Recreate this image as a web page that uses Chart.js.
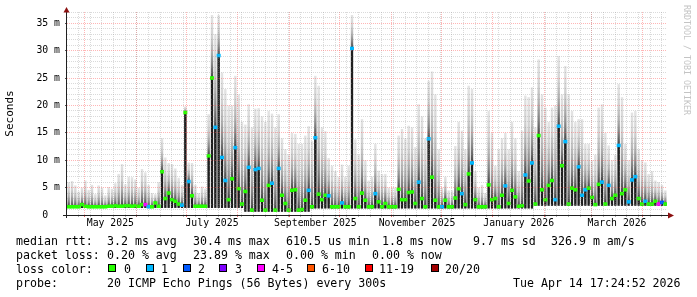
<!DOCTYPE html>
<html><head><meta charset="utf-8">
<script src="https://cdn.jsdelivr.net/npm/chart.js@4/dist/chart.umd.min.js"></script>
<style>
html,body{margin:0;padding:0;background:#fff;}
#wrap{position:relative;width:697px;height:297px;overflow:hidden;background:#fff;}
#c{position:absolute;left:0;top:0;}
.t{position:absolute;font-family:'DejaVu Sans Mono',monospace;font-size:11.6px;line-height:14px;white-space:pre;color:#000;}
.b{position:absolute;top:264px;width:6px;height:6px;border:1px solid #000;}
#wm{position:absolute;left:682px;top:5px;writing-mode:vertical-rl;font-family:'DejaVu Sans Mono',monospace;font-size:8.3px;line-height:10px;color:#c4c4c4;white-space:nowrap;}
</style></head><body>
<div id="wrap">
<canvas id="c" width="697" height="297"></canvas>
<div class="t" style="left:16px;top:234px">median rtt:</div>
<div class="t" style="left:107px;top:234px">3.2 ms avg</div>
<div class="t" style="left:193px;top:234px">30.4 ms max</div>
<div class="t" style="left:286px;top:234px">610.5 us min</div>
<div class="t" style="left:382px;top:234px">1.8 ms now</div>
<div class="t" style="left:473px;top:234px">9.7 ms sd</div>
<div class="t" style="left:551px;top:234px">326.9 m am/s</div>
<div class="t" style="left:16px;top:248px">packet loss:</div>
<div class="t" style="left:107px;top:248px">0.20 % avg</div>
<div class="t" style="left:193px;top:248px">23.89 % max</div>
<div class="t" style="left:286px;top:248px">0.00 % min</div>
<div class="t" style="left:372px;top:248px">0.00 % now</div>
<div class="t" style="left:16px;top:262px">loss color:</div>
<div id="lossLegend"></div>
<div class="t" style="left:16px;top:276px">probe:</div>
<div class="t" style="left:107px;top:276px">20 ICMP Echo Pings (56 Bytes) every 300s</div>
<div class="t" style="left:513px;top:276px">Tue Apr 14 17:24:52 2026</div>
<div id="wm">RRDTOOL / TOBI OETIKER</div>
</div>
<script>
// ---- data (2-day bins, 20 Apr 2025 -> 15 Apr 2026) ----
const medianMs = [
 1.5,1.5,1.5,1.5,1.9,1.6,1.5,1.5,1.5,1.5,
 1.5,1.5,1.6,1.6,1.7,1.6,1.6,1.7,1.7,1.6,
 1.7,1.6,1.9,1.9,1.5,1.5,2.2,1.6,7.9,3.0,
 4.0,2.8,2.5,2.0,1.8,18.7,6.1,3.5,1.6,1.6,
 1.6,1.6,10.8,25.0,16.0,29.1,10.5,6.3,2.8,6.6,
 12.3,4.8,2.0,4.3,8.7,0.9,8.3,8.5,2.7,0.9,
 5.4,5.8,0.9,8.5,3.6,2.1,0.9,4.5,4.6,0.9,
 1.0,2.7,4.5,1.5,14.1,3.8,2.8,3.6,3.5,1.5,
 1.5,1.5,2.2,1.5,1.5,30.4,3.0,1.5,4.0,2.7,
 1.5,1.5,3.9,2.4,1.5,2.1,1.5,1.5,1.5,4.7,
 2.8,2.8,4.1,4.2,2.1,6.0,3.0,1.5,13.9,6.9,
 2.7,1.5,1.5,2.7,1.5,1.5,3.1,4.8,3.9,1.9,
 7.5,9.5,2.8,1.5,1.5,1.5,5.5,2.8,3.0,1.5,
 3.6,5.3,2.1,4.5,3.3,1.6,1.7,7.3,6.2,9.5,
 2.0,14.5,4.6,2.8,5.4,6.3,2.8,16.2,9.0,13.4,
 2.0,4.9,4.6,8.8,3.6,4.6,4.9,3.2,1.9,5.6,
 6.0,2.0,5.4,3.0,3.6,12.7,3.9,4.6,2.4,6.4,
 7.0,3.0,2.0,2.5,2.0,2.0,2.5,2.0,2.3,2.0
];
const maxMs = [
 6.0,6.2,5.4,4.3,5.0,6.3,4.6,5.5,3.8,5.4,
 5.0,3.6,5.1,4.8,5.8,7.5,9.3,5.6,7.0,6.9,
 6.5,5.0,8.4,7.8,5.5,4.0,3.8,6.0,14.0,10.5,
 9.5,9.3,8.5,6.8,5.5,19.8,9.6,9.5,5.5,4.0,
 5.2,4.8,18.4,36.5,33.0,36.5,26.0,23.0,20.0,20.0,
 25.4,22.0,17.0,16.5,20.2,16.0,19.4,19.5,18.0,17.0,
 19.0,18.5,16.0,18.4,14.0,12.0,11.0,15.0,14.8,13.0,
 13.0,14.5,16.2,13.5,25.4,23.6,16.0,15.3,10.4,9.0,
 8.0,7.0,9.2,7.0,9.0,36.5,13.8,11.0,17.5,10.0,
 6.3,7.0,13.0,8.1,7.5,7.5,5.0,5.0,5.0,14.5,
 15.7,14.0,16.3,16.0,12.4,20.2,18.0,14.0,24.5,26.2,
 22.0,12.0,5.0,7.0,4.5,4.5,12.6,17.0,15.4,12.0,
 23.6,23.0,8.0,5.0,5.5,4.0,19.0,15.0,9.0,12.0,
 14.0,15.0,12.0,17.0,14.0,8.0,15.4,21.8,21.5,23.3,
 16.0,28.4,22.0,19.6,17.0,19.6,20.0,29.0,22.0,27.2,
 22.0,19.0,17.0,17.5,17.5,13.0,13.0,10.0,11.0,19.6,
 20.2,15.0,12.7,10.0,11.0,23.9,21.5,13.0,10.0,18.7,
 19.0,12.0,10.0,9.6,7.5,8.0,6.3,6.0,5.5,4.5
];
const minMs = [
 1.3,1.3,1.3,1.3,1.3,1.3,1.3,1.3,1.3,1.3,
 1.3,1.3,1.3,1.3,1.3,1.3,1.3,1.3,1.3,1.3,
 1.3,1.3,1.3,1.3,1.3,1.3,1.3,1.3,1.3,1.3,
 1.3,1.3,1.3,1.3,1.3,1.3,1.3,1.3,1.3,1.3,
 1.3,1.3,1.3,1.3,1.3,1.3,1.3,1.3,1.3,1.3,
 1.3,1.3,1.3,0.6,0.6,0.6,0.6,0.6,0.6,0.6,
 0.6,0.6,0.6,0.6,0.6,0.6,0.6,0.6,0.6,0.6,
 0.6,0.6,0.6,1.2,1.2,1.2,1.2,1.2,1.2,1.2,
 1.2,1.2,1.2,1.2,1.2,1.2,1.2,1.2,1.2,1.2,
 1.2,1.2,1.2,1.2,1.2,1.2,1.2,1.2,1.2,1.2,
 1.2,1.2,1.2,1.2,1.2,1.2,1.2,1.2,1.2,1.2,
 1.2,1.2,1.2,1.2,1.2,1.2,1.2,1.2,1.2,1.2,
 1.2,1.2,1.2,1.2,1.2,1.2,1.2,1.2,1.2,1.2,
 1.2,1.2,1.2,1.2,1.2,1.2,1.2,1.2,1.2,1.2,
 1.7,1.7,1.7,1.7,1.7,1.7,1.7,1.7,1.7,1.7,
 1.7,1.7,1.7,1.7,1.7,1.7,1.7,1.7,1.7,1.7,
 1.7,1.7,1.7,1.7,1.7,1.7,1.7,1.7,1.7,1.7,
 1.7,1.7,1.7,1.7,1.7,1.7,1.7,1.7,1.7,1.7
];
const lossPings = [
 0,0,0,0,0,0,0,0,0,0,
 0,0,0,0,0,0,0,0,0,0,
 0,0,0,4,1,0,0,0,0,0,
 0,0,0,0,1,0,1,0,0,0,
 0,0,0,0,1,1,1,1,0,0,
 1,0,0,0,1,0,1,1,0,0,
 0,1,0,1,0,0,0,0,0,0,
 0,0,1,0,1,0,0,0,1,0,
 0,0,1,0,0,1,0,0,0,0,
 0,0,1,0,0,0,0,0,0,0,
 0,0,0,0,0,1,0,0,1,0,
 0,0,1,0,0,0,0,0,1,0,
 0,1,0,0,0,0,0,0,0,0,
 0,1,0,0,0,0,0,1,0,1,
 0,0,0,0,0,0,1,1,0,1,
 0,0,0,1,1,1,0,0,0,0,
 1,0,1,0,0,1,0,0,1,1,
 1,0,0,1,0,0,0,4,2,0
];
const lossClasses = ['0','1','2','3','4-5','6-10','11-19','20/20'];
const lossColors  = ['#26ff00','#00b8ff','#0059ff','#7e00ff','#ff00ff','#ff5500','#ff0000','#a10000'];
const xTickLabels = ['May 2025','July 2025','September 2025','November 2025','January 2026','March 2026'];
const yLabelStep = 5;

// ---- time axis (days since 1 May 2025) ----
const D0 = Date.UTC(2025, 4, 1);
const dayOf = (y, m, d, h = 0) => (Date.UTC(y, m, d, h) - D0) / 864e5;
const binStartDay = dayOf(2025, 3, 20, 12);
const binDays = 2;
const xMin = binStartDay, xMax = binStartDay + binDays * medianMs.length;
const xOf = i => binStartDay + binDays * (i + 0.5);

const xTicks = [];
for (let m = 4; m <= 15; m++) xTicks.push({value: dayOf(2025, m, 1), kind: 'month'});
for (let d = dayOf(2025, 4, 4, 10) - 7; d < xMax; d += 7) if (d > xMin) xTicks.push({value: d, kind: 'week'});
xTickLabels.forEach((t, j) => xTicks.push({value: dayOf(2025, 4 + 2 * j, 16, 12), kind: 'label', text: t}));
xTicks.sort((a, b) => a.value - b.value);

function lossIdx(n) { if (n <= 3) return n; if (n <= 5) return 4; if (n <= 10) return 5; if (n <= 19) return 6; return 7; }

// legend boxes
const boxX = [108,146,183,219,257,307,365,431], labX = [124,161,198,235,272,322,379,445];
const ll = document.getElementById('lossLegend');
lossClasses.forEach((c, k) => {
  const b = document.createElement('div'); b.className = 'b'; b.style.left = boxX[k] + 'px'; b.style.background = lossColors[k]; ll.appendChild(b);
  const t = document.createElement('div'); t.className = 't'; t.style.left = labX[k] + 'px'; t.style.top = '262px'; t.textContent = c; ll.appendChild(t);
});

const MAJ = 'rgba(255,80,80,0.42)', MIN = 'rgba(140,140,140,0.32)';
const binPx = (697 - 67 - 30) / medianMs.length;

function smokeFill(c) {
  const ys = c.chart.scales.y;
  if (c.type !== 'data' || !ys) return '#d0d0d0';
  const i = c.dataIndex;
  const pLo = ys.getPixelForValue(minMs[i]);
  const pMed = ys.getPixelForValue(medianMs[i]);
  const pHi = ys.getPixelForValue(maxMs[i]);
  const span = pLo - pHi;
  if (!(span > 0)) return '#d0d0d0';
  const f = Math.min(0.98, Math.max(0, (pLo - pMed) / span));
  const at = k => f + (1 - f) * k;
  const g = c.chart.ctx.createLinearGradient(0, pLo, 0, pHi);
  g.addColorStop(0, '#808080');
  g.addColorStop(f, '#3c3c3c');
  g.addColorStop(at(0.08), '#5c5c5c');
  g.addColorStop(at(0.22), '#858585');
  g.addColorStop(at(0.42), '#b0b0b0');
  g.addColorStop(at(0.66), '#d0d0d0');
  g.addColorStop(1, '#e4e4e4');
  return g;
}

const axisPlugin = {
  id: 'rrdAxes',
  afterDraw(chart) {
    const {ctx, chartArea: a} = chart;
    ctx.save();
    ctx.strokeStyle = '#202020'; ctx.lineWidth = 1;
    ctx.beginPath();
    ctx.moveTo(a.left - 4, a.bottom + 0.5); ctx.lineTo(a.right + 1, a.bottom + 0.5);
    ctx.moveTo(a.left - 0.5, a.bottom + 3); ctx.lineTo(a.left - 0.5, a.top);
    ctx.stroke();
    ctx.fillStyle = '#8b1010';
    ctx.beginPath(); ctx.moveTo(a.right + 7, a.bottom + 0.5); ctx.lineTo(a.right + 1, a.bottom - 2.5); ctx.lineTo(a.right + 1, a.bottom + 3.5); ctx.closePath(); ctx.fill();
    ctx.beginPath(); ctx.moveTo(a.left - 0.5, a.top - 5); ctx.lineTo(a.left - 3.5, a.top + 0.5); ctx.lineTo(a.left + 2.5, a.top + 0.5); ctx.closePath(); ctx.fill();
    ctx.restore();
  }
};

Chart.defaults.font.family = "'DejaVu Sans Mono', monospace";
Chart.defaults.color = '#000';

new Chart(document.getElementById('c'), {
  type: 'bar',
  data: {
    datasets: [
      { label: 'median', order: 0, grouped: false, barThickness: binPx, inflateAmount: 0.35, borderWidth: 0,
        data: medianMs.map((m, i) => ({x: xOf(i), y: [m - 0.26, m + 0.26]})),
        backgroundColor: c => lossColors[lossIdx(lossPings[c.dataIndex] || 0)] },
      { label: 'core', order: 1, grouped: false, barThickness: binPx * 0.6, inflateAmount: 0, borderWidth: 0,
        data: medianMs.map((m, i) => ({x: xOf(i), y: [minMs[i], m]})),
        backgroundColor: '#1e1e1e' },
      { label: 'smoke', order: 2, grouped: false, barThickness: binPx * 0.72, inflateAmount: 0, borderWidth: 0,
        data: medianMs.map((m, i) => ({x: xOf(i), y: [minMs[i], maxMs[i]]})),
        backgroundColor: smokeFill }
    ]
  },
  options: {
    responsive: false, animation: false, devicePixelRatio: 1,
    layout: { padding: { left: 0, right: 30, top: 12, bottom: 0 } },
    plugins: { legend: { display: false }, tooltip: { enabled: false } },
    scales: {
      x: {
        type: 'linear', min: xMin, max: xMax, offset: false,
        afterBuildTicks: s => { s.ticks = xTicks.map(t => Object.assign({}, t)); },
        afterFit: s => { s.height = 82; },
        grid: {
          z: 1, lineWidth: 1, drawTicks: true, tickLength: 2, offset: false,
          color: c => c.tick && c.tick.kind === 'month' ? MAJ : (c.tick && c.tick.kind === 'week' ? MIN : 'rgba(0,0,0,0)'),
          tickColor: c => c.tick && c.tick.kind === 'month' ? 'rgba(230,60,60,0.8)' : (c.tick && c.tick.kind === 'week' ? 'rgba(120,120,120,0.6)' : 'rgba(0,0,0,0)')
        },
        border: { display: false, dash: [1, 1] },
        ticks: { autoSkip: false, maxRotation: 0, minRotation: 0, padding: 1, color: '#000',
          font: { family: "'DejaVu Sans Mono', monospace", size: 9.8 },
          callback: (v, i, ticks) => ticks[i].kind === 'label' ? ticks[i].text : '' }
      },
      y: {
        min: 0, max: 37.05,
        afterBuildTicks: s => { s.ticks = []; for (let v = 0; v <= 37; v++) s.ticks.push({value: v}); },
        afterFit: s => { s.width = 67; },
        grid: {
          z: 1, lineWidth: 1, drawTicks: true, tickLength: 2,
          color: c => (c.tick && c.tick.value % yLabelStep === 0) ? MAJ : MIN,
          tickColor: c => (c.tick && c.tick.value % yLabelStep === 0) ? '#555' : 'rgba(0,0,0,0)'
        },
        border: { display: false, dash: [1, 1] },
        ticks: { autoSkip: false, padding: 5, color: '#000', font: { family: "'DejaVu Sans Mono', monospace", size: 9.8 },
          callback: v => v % yLabelStep === 0 ? (v === 0 ? '0  ' : v + ' m') : '' },
        title: { display: true, text: 'Seconds', color: '#000', padding: { top: 4, bottom: 0 },
          font: { family: "'DejaVu Sans Mono', monospace", size: 11 } }
      }
    }
  },
  plugins: [axisPlugin]
});
</script>
</body></html>
